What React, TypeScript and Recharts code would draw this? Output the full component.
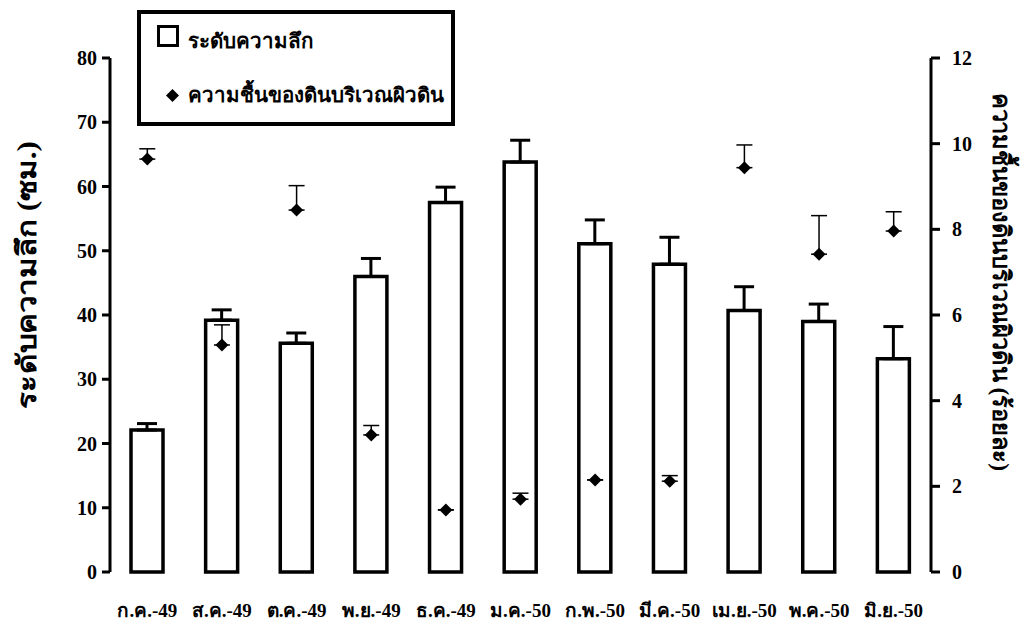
import React from 'react';
import { ComposedChart, Bar, Scatter, XAxis, YAxis, ErrorBar } from 'recharts';

const months = ['ก.ค.-49', 'ส.ค.-49', 'ต.ค.-49', 'พ.ย.-49', 'ธ.ค.-49', 'ม.ค.-50', 'ก.พ.-50', 'มี.ค.-50', 'เม.ย.-50', 'พ.ค.-50', 'มิ.ย.-50'];
const depth = [22.1, 39.2, 35.6, 46.0, 57.5, 63.8, 51.1, 47.9, 40.7, 39.0, 33.2];
const depthErr = [1.0, 1.6, 1.6, 2.8, 2.4, 3.4, 3.7, 4.2, 3.7, 2.7, 5.0];
const moisture = [9.64, 5.3, 8.45, 3.2, 1.45, 1.7, 2.15, 2.12, 9.44, 7.42, 7.96];
const moistureErr = [0.24, 0.47, 0.57, 0.22, 0, 0.14, 0, 0.13, 0.53, 0.9, 0.45];

const leftTicks = [0, 10, 20, 30, 40, 50, 60, 70, 80];
const rightTicks = [0, 2, 4, 6, 8, 10, 12];
const boundaryTicks = [0, 1, 2, 3, 4, 5, 6, 7, 8, 9, 10, 11];

const data = months.map((m, i) => ({
  month: m,
  depth: depth[i],
  depthErr: [0, depthErr[i]],
  moisture: moisture[i],
  moistureErr: [0, moistureErr[i]],
}));

const FONT = 'Times New Roman, Liberation Serif, serif';

const Diamond = (props: any) => {
  const { cx, cy } = props;
  const s = 6.5;
  return <polygon points={`${cx},${cy - s} ${cx + s},${cy} ${cx},${cy + s} ${cx - s},${cy}`} fill="#000" />;
};

export default function App() {
  const tickStyle = { fill: '#000', fontFamily: FONT, fontWeight: 700, fontSize: 20 };
  const monthStyle = { fill: '#000', fontFamily: FONT, fontWeight: 700, fontSize: 19 };
  return (
    <div style={{ position: 'absolute', left: 0, top: 0, width: 1030, height: 639, background: '#fff' }}>
      <ComposedChart
        width={1030}
        height={639}
        data={data}
        margin={{ top: 58, right: 39, left: 50, bottom: 27 }}
        style={{ fontFamily: FONT }}
      >
        <XAxis
          xAxisId="edge"
          type="number"
          domain={[0, 11]}
          ticks={boundaryTicks}
          height={0}
          tick={false}
          tickSize={9}
          axisLine={{ stroke: '#000', strokeWidth: 3 }}
          tickLine={{ stroke: '#000', strokeWidth: 3 }}
        />
        <XAxis
          dataKey="month"
          height={40}
          axisLine={false}
          tickLine={false}
          tick={monthStyle}
          tickMargin={26}
          interval={0}
        />
        <YAxis
          yAxisId="left"
          width={60}
          domain={[0, 80]}
          ticks={leftTicks}
          tickSize={8}
          axisLine={{ stroke: '#000', strokeWidth: 3 }}
          tickLine={{ stroke: '#000', strokeWidth: 3 }}
          tick={tickStyle}
          tickMargin={5}
        />
        <YAxis
          yAxisId="right"
          orientation="right"
          width={60}
          domain={[0, 12]}
          ticks={rightTicks}
          tickSize={9}
          axisLine={{ stroke: '#000', strokeWidth: 3 }}
          tickLine={{ stroke: '#000', strokeWidth: 3 }}
          tick={tickStyle}
          tickMargin={12}
        />
        <Bar
          yAxisId="left"
          dataKey="depth"
          barSize={32}
          fill="#fff"
          stroke="#000"
          strokeWidth={3.5}
          isAnimationActive={false}
        >
          <ErrorBar dataKey="depthErr" direction="y" width={10} stroke="#000" strokeWidth={3} />
        </Bar>
        <Scatter
          yAxisId="right"
          dataKey="moisture"
          shape={Diamond}
          isAnimationActive={false}
        >
          <ErrorBar dataKey="moistureErr" direction="y" width={8} stroke="#000" strokeWidth={1.5} />
        </Scatter>
      </ComposedChart>
      <svg width={1030} height={639} style={{ position: 'absolute', left: 0, top: 0, pointerEvents: 'none' }}>
        <text
          x={0}
          y={0}
          transform="translate(27, 275) rotate(-90)"
          textAnchor="middle"
          dominantBaseline="central"
          fontFamily={FONT}
          fontWeight={700}
          fontSize={27}
          textLength={268}
          lengthAdjust="spacingAndGlyphs"
          fill="#000"
        >
          ระดับความลึก (ซม.)
        </text>
        <text
          x={0}
          y={0}
          transform="translate(1001, 282) rotate(90)"
          textAnchor="middle"
          dominantBaseline="central"
          fontFamily={FONT}
          fontWeight={700}
          fontSize={24}
          textLength={378}
          lengthAdjust="spacingAndGlyphs"
          fill="#000"
        >
          ความชื้นของดินบริเวณผิวดิน (ร้อยละ)
        </text>
      </svg>
      <div
        style={{
          position: 'absolute',
          left: 137,
          top: 10,
          width: 310,
          height: 108,
          border: '4px solid #000',
          fontFamily: FONT,
          fontWeight: 700,
          fontSize: 20.5,
          color: '#000',
          whiteSpace: 'nowrap',
        }}
      >
        <span
          style={{
            position: 'absolute',
            left: 16,
            top: 11,
            width: 16,
            height: 16,
            border: '3.5px solid #000',
          }}
        />
        <span style={{ position: 'absolute', left: 47, top: 15, lineHeight: '24px' }}>ระดับความลึก</span>
        <svg width={13} height={13} style={{ position: 'absolute', left: 25, top: 75 }}>
          <polygon points="6.5,0 13,6.5 6.5,13 0,6.5" fill="#000" />
        </svg>
        <span style={{ position: 'absolute', left: 47, top: 69, lineHeight: '24px' }}>ความชื้นของดินบริเวณผิวดิน</span>
      </div>
    </div>
  );
}
